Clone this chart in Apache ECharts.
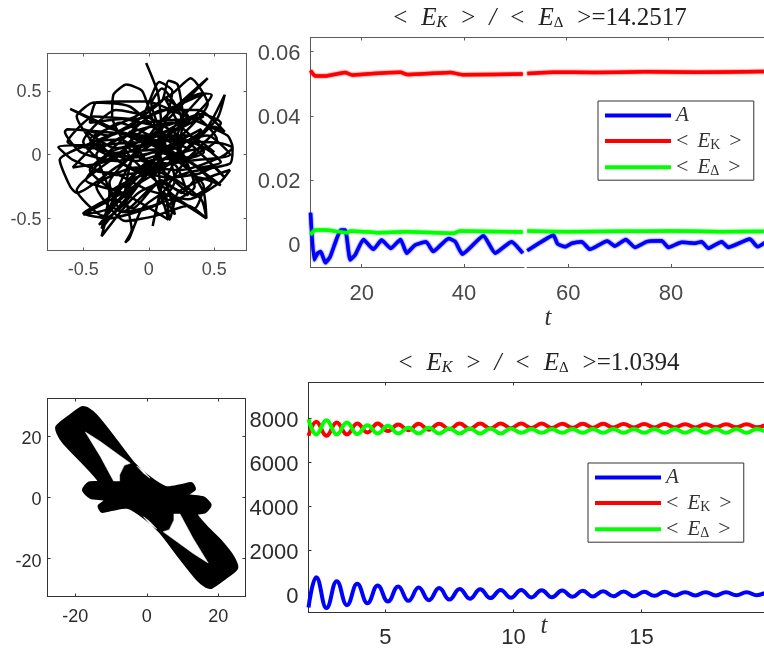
<!DOCTYPE html>
<html><head><meta charset="utf-8">
<style>html,body{margin:0;padding:0;background:#fff}#c{width:764px;height:652px}</style>
<script src="https://cdn.jsdelivr.net/npm/echarts@6/dist/echarts.min.js"></script>
</head><body><div id="c"></div>
<script>
var orbitX=[-.02,.07,.10,-.02,-.30,-.50,-.25,.15,.45,.58,
.52,.15,-.25,-.58,-.69,-.35,.15,.55,.64,.62,
.30,-.08,-.36,-.30,-.15,.08,.45,.28,-.05,-.35,
-.58,-.38,-.05,.30,.42,.10,-.25,-.55,-.60,-.68,
-.60,-.20,.10,.15,.22,.26,.22,.10,.03,.08,
.28,.55,.40,.10,-.20,-.45,-.40,-.02,.28,.60,
.64,.55,.25,-.10,-.40,-.18,.05,.30,.44,.42,
.30,.05,-.28,-.60,-.30,-.10,.12,.02,-.05,-.17,
-.27,-.28,-.15,.10,.35,.48,.30,.05,-.25,-.52,
-.64,-.62,-.35,-.05,.25,.48,.40,.15,-.12,-.18,
-.13,-.18,-.15,-.05,.12,.16,.22,.40,.62,.54,
.30,.00,-.25,-.42,-.20,.10,.38,.58,.50,.20,
-.10,-.45,-.10,.18,.32,.45,.20,-.10,-.32,-.50,
-.30,.00,.18,.44,.40,.18,-.05,-.22,-.38,-.20,
.08,.42,.55,.40,.08,-.15,-.42,-.55,-.38,-.10,
.20,.35,.12,.07,.14,.18,.08,-.05,-.30,-.50,
-.25,.12,.35,.52,.30,.00,-.20,-.28,-.20,.10,
.25,.38,.55,.30,.05,-.25,-.45,-.25,.00,.15,
.15,-.20,-.48,-.30,.10,.40,.30,.02,-.18,.05,
.35,.42,.15,-.15,-.40,-.62,-.42,-.10,.20,.42,
.22,.08,.12,.20,.10,-.05,-.22,-.38,-.18,.15,
.38,.50,.58,.30,-.02,-.25,-.50,-.35,-.08,.25,
.50,.30,.08,-.10,-.30,-.20,.08,.20,.12,.02,
.10,.25,.15,-.05,-.28,-.45,-.22,.02,.28,.12,
-.10,-.30,-.12,.08,.30,.20,-.05,-.15,.05,.20,
.42,.18,-.12,-.40,-.30,-.36,-.22,.05,.30,.62,
.45,.15,-.15,-.35,-.55,-.25,.10,.30,.12,.25];
var orbitY=[.72,.48,.15,-.15,-.42,-.47,-.33,-.08,.22,.47,
.28,-.08,-.16,-.04,.06,.08,.11,.09,.05,-.07,
-.14,-.30,-.64,-.42,-.08,.25,.60,.42,.08,-.06,
-.10,.10,.25,.28,.30,.13,-.10,-.30,-.25,-.04,
.02,.20,.42,.58,.55,.30,.00,-.25,-.56,-.35,
-.05,.25,.32,.22,.28,.25,.41,.42,.30,.15,
.06,-.02,-.12,-.10,-.25,-.52,-.48,-.40,-.50,-.30,
-.10,.10,.20,.36,.22,.12,.05,.30,.50,.55,
.47,.30,.05,-.12,-.32,-.22,-.05,.02,-.05,.02,
.18,.20,.18,.15,.22,.47,.48,.32,-.02,-.30,
-.59,-.69,-.66,-.42,-.30,-.51,-.30,-.20,-.12,-.22,
-.35,-.28,-.15,-.12,.12,.35,.35,.18,.22,.05,
-.05,.12,.30,.48,.60,.40,.10,-.15,-.35,-.46,
-.50,-.42,-.35,-.50,-.35,-.18,-.10,-.35,-.55,-.40,
-.05,.05,-.06,-.10,.18,.38,.41,.30,.05,-.02,
.08,-.25,-.40,.10,.30,.50,.57,.30,.15,.20,
.05,.18,.30,.12,-.02,-.05,-.25,-.40,-.45,-.20,
-.30,-.18,-.24,-.05,.08,.04,-.12,-.28,-.12,-.51,
-.51,-.30,-.20,.00,.05,.20,.05,.22,.05,-.20,
-.42,-.25,.00,.15,.05,.10,.30,.28,.38,.48,
.25,.05,-.15,-.47,-.30,.00,.12,.10,-.08,-.18,
-.15,-.10,-.18,.10,.30,.35,.10,-.05,.10,.12,
.02,.15,.15,.02,-.22,-.45,-.38,-.20,.10,.40,
.52,.28,.00,-.15,-.02,.08,.25,.15,.12,-.10,
-.18,-.30,-.42,-.22,-.32,-.08,-.05,.18,.10,-.05,
.02,.25,.18,.00,-.30,-.58,-.40,-.10,-.05,.00,
.15,.05,-.25,-.48,-.28,-.02,.12,.30,.45,.20];

var bandX=[-25.3,-21.9,-18.2,-16.6,-14.0,-9.3,-3.7,0.5,5.4,9.8,12.6,13.5,11.6,15.8,17.9,16.3,14.0,16.8,20.5,24.2,25.3,21.9,18.2,16.6,14.0,9.3,3.7,-0.5,-5.4,-9.8,-12.6,-13.5,-11.6,-15.8,-17.9,-16.3,-13.5,-23.3,-25.0];
var bandY=[23.2,26.5,29.5,29.2,26.7,19.9,11.4,6.9,3.4,4.1,4.7,2.7,0.9,0.1,-2.4,-4.9,-5.4,-9.5,-13.8,-19.3,-23.2,-26.5,-29.5,-29.2,-26.7,-19.9,-11.4,-6.9,-3.4,-4.1,-4.7,-2.7,-0.9,-0.1,2.4,4.9,5.4,17.8,21.0];
var holeAX=[-17.2,-13,-4.6,-6.3,-7.6,-7.6,-9.3,-13];
var holeAY=[21.4,18.3,11.2,10.5,7.4,5.4,5.4,13.4];
var holeBX=[17.2,13,4.6,6.3,7.6,7.6,9.3,13];
var holeBY=[-21.4,-18.3,-11.2,-10.5,-7.4,-5.4,-5.4,-13.4];
var slitAX=[-2.8,-.9,.9,-.9];
var slitAY=[10.3,8.8,6.3,7.9];
var slitBX=[2.8,.9,-.9,.9];
var slitBY=[-10.3,-8.8,-6.3,-7.9];

var ampLeftT=[10,10.7,11.4,12,12.9,13.85,14.8,15.9,16.8,17.75,18.7,20.35,22.3,23.9,25.7,27.6,28.8,30.4,32.6,34,37,38.3,39.7,43.8,46.1,49.3,51.5];
var ampLeft=[.0098,-.0049,-.0028,-.0023,-.0058,-.0039,.0003,.0044,.0044,-.0049,-.0034,.0015,-.0016,.0013,-.0013,.0015,-.0028,-.0003,.0008,-.0023,.0018,.0008,-.0031,.0026,-.0028,.0008,-.0028];
var ampRightT=[52,54.5,57.1,57.9,59.4,60.7,62.6,64.2,67.6,69.1,71.2,73,75.3,78.2,79.5,82.1,84.7,86,87.3,89.9,91.2,95.4,96.9,98.3];
var ampRight=[-.002,.0005,.0029,.0001,-.0008,.0003,.0008,-.0016,.001,-.0006,.0015,-.001,.0008,.0011,-.001,.0006,.0003,.0008,-.0013,.0008,-.001,.0016,-.0008,.0005];
var kinLeftT=[10,10.9,12.9,16.8,18.1,22.3,27.6,28.9,37.4,39.7,51.5];
var kinLeft=[.0541,.0524,.0524,.0535,.0527,.0532,.0536,.0529,.0535,.0528,.053];
var kinRightT=[52,57,65,75,85,98.3];
var kinRight=[.0532,.0536,.0535,.0537,.0536,.0538];
var gapLeftT=[10,10.9,12.9,17.2,17.8,23,28.9,38,39.2,51.5];
var gapLeft=[.0029,.0044,.0044,.0036,.0041,.0036,.0039,.0034,.0041,.0038];
var gapRightT=[52,60,70,80,90,98.3];
var gapRight=[.0041,.0039,.004,.0041,.0039,.004];

var osciT=[2.0,2.3,2.7,3.1,3.5,3.9,4.3,4.7,5.1,5.5,5.9,6.3,6.7,7.1,7.5,7.9,8.3,8.7,9.1,9.5,9.9,10.3,10.7,11.1,11.5,11.9,12.3,12.7,13.1,13.5,13.9,14.3,14.7,15.1,15.5,15.9,16.3,16.7,17.1,17.5,17.9,18.3,18.7,19.1,19.5,19.8];
var osciA=[-620,760,-650,575,-515,455,-425,380,-350,335,-320,290,-290,260,-260,225,-225,210,-195,180,-180,180,-165,165,-150,150,-135,135,-120,120,-105,105,-105,90,-90,90,-75,75,-75,75,-75,75,-60,75,-60,30];
var osciK=[7200,7832,7197,7803,7258,7757,7348,7757,7409,7712,7450,7740,7470,7750,7500,7757,7510,7757,7530,7757,7545,7757,7550,7757,7555,7750,7560,7745,7565,7740,7570,7735,7575,7730,7575,7730,7575,7727,7575,7727,7580,7727,7580,7727,7580,7680];
var osciD=[7950,7258,7909,7258,7803,7273,7682,7303,7652,7303,7561,7303,7561,7303,7530,7303,7530,7303,7530,7303,7530,7333,7500,7333,7500,7333,7510,7333,7510,7333,7510,7333,7510,7333,7510,7333,7510,7333,7510,7333,7510,7333,7510,7333,7510,7400];

var ticksOrbit=[-.5,0,.5], ticksBand=[-20,0,20];
var ticksTopY=[0,.02,.04,.06], ticksTopLeftX=[20,40], ticksTopRightX=[60,80], ticksTopFrame=[20,40,60,80];
var ticksBotY=[0,2000,4000,6000,8000], ticksBotX=[5,10,15];
var NAME_A='A', NAME_K='<EK>', NAME_D='<ED>';

var BLUE='#0000ff',RED='#ff0000',GREEN='#00ff00';
var SANS='"Liberation Sans",Arial,sans-serif', SERIF='"Liberation Serif",serif';

function zip(a,b){return a.map(function(v,i){return [v,b[i]];});}
function axis(o){
  var show=o.labels!==false;
  return {type:'value',gridIndex:o.grid,position:o.pos,min:o.min,max:o.max,
    axisLine:{show:o.line!==false,onZero:false,lineStyle:{color:o.color,width:1}},
    axisTick:{show:true,inside:true,length:3,customValues:o.ticks,lineStyle:{color:o.color,width:1}},
    axisLabel:{show:show,customValues:o.ticks,margin:o.margin,fontFamily:SANS,fontSize:o.size,color:o.text,hideOverlap:false,showMinLabel:true,showMaxLabel:true,
      rich:{a:{fontFamily:SANS,fontSize:o.size,color:o.text,padding:[o.pad||0,0,0,0]}},
      formatter:function(v){return '{a|'+v+'}';}},
    splitLine:{show:false}};
}
function box(grid,xr,yr,xt,yt,size,color,text,mx,my,pad){
  return {x:[axis({grid:grid,pos:'bottom',min:xr[0],max:xr[1],ticks:xt,size:size,color:color,text:text,margin:mx}),
             axis({grid:grid,pos:'top',min:xr[0],max:xr[1],ticks:xt,labels:false,color:color})],
          y:[axis({grid:grid,pos:'left',min:yr[0],max:yr[1],ticks:yt,size:size,color:color,text:text,margin:my,pad:pad}),
             axis({grid:grid,pos:'right',min:yr[0],max:yr[1],ticks:yt,labels:false,color:color})]};
}
var COLT='#5a5a5a', TXTT='#4a4a4a', COLB='#333', TXTB='#2b2b2b';
var grids=[
 {left:47.5,top:53.5,width:199,height:197},
 {left:310.5,top:37.5,width:213.5,height:229.5},
 {left:527,top:37.5,width:237,height:229.5},
 {left:310.5,top:37.5,width:453.5,height:229.5},
 {left:47.5,top:398.5,width:198,height:198},
 {left:308.5,top:382.5,width:455.5,height:230}
];
var b0=box(0,[-.773,.746],[-.752,.794],ticksOrbit,ticksOrbit,18,COLT,TXTT,11,6,3);
var b4=box(4,[-27.8,27.65],[-32.35,32.35],ticksBand,ticksBand,18,COLB,TXTB,12,6,6);
var xAxes=[b0.x[0],b0.x[1],
 axis({grid:1,pos:'bottom',min:10,max:51.74,ticks:ticksTopLeftX,size:22,color:COLT,text:TXTT,margin:16}),
 axis({grid:2,pos:'bottom',min:51.95,max:98.15,ticks:ticksTopRightX,size:22,color:COLT,text:TXTT,margin:16}),
 axis({grid:3,pos:'top',min:10,max:98.76,ticks:ticksTopFrame,labels:false,color:COLT}),
 b4.x[0],b4.x[1],
 axis({grid:5,pos:'bottom',min:2,max:19.78,ticks:ticksBotX,size:22,color:COLB,text:TXTB,margin:14}),
 axis({grid:5,pos:'top',min:2,max:19.78,ticks:ticksBotX,labels:false,color:COLB})
];
var yrT=[-.0071,.0644], yrB=[-850,9623];
function hiddenY(g,r){var a=axis({grid:g,pos:'left',min:r[0],max:r[1],ticks:[],labels:false,line:false,color:COLT});a.axisTick.show=false;return a;}
var yAxes=[b0.y[0],b0.y[1],
 axis({grid:1,pos:'left',min:yrT[0],max:yrT[1],ticks:ticksTopY,size:22,color:COLT,text:TXTT,margin:10,pad:4}),
 hiddenY(2,yrT),hiddenY(3,yrT),
 b4.y[0],b4.y[1],
 axis({grid:5,pos:'left',min:yrB[0],max:yrB[1],ticks:ticksBotY,size:22,color:COLB,text:TXTB,margin:10,pad:6})
];
function curve(name,color,xi,yi,t,v,w,sm,blur){
  var s={type:'line',name:name,xAxisIndex:xi,yAxisIndex:yi,data:zip(t,v),symbol:'none',clip:true,smooth:sm,
    lineStyle:{color:color,width:w,join:'round',shadowBlur:blur||0,shadowColor:color},itemStyle:{color:color},animation:false};
  if(sm>0.3){s.smoothMonotone='x';}
  return s;
}
function poly(xs,ys,color,xi,yi,sm){
  return {type:'custom',coordinateSystem:'cartesian2d',xAxisIndex:xi,yAxisIndex:yi,silent:true,animation:false,
    data:zip(xs,ys),encode:{x:0,y:1},
    renderItem:function(p,api){
      if(p.dataIndex!==0)return null;
      return {type:'polygon',shape:{smooth:sm,points:zip(xs,ys).map(function(q){return api.coord(q);})},
        style:{fill:color,stroke:color,lineWidth:color==='#000'?2:0.5,lineJoin:'round'}};
    }};
}
var series=[
 {type:'line',xAxisIndex:0,yAxisIndex:0,data:zip(orbitX,orbitY),symbol:'none',smooth:0.2,lineStyle:{color:'#000',width:2.5},animation:false},
 poly(bandX,bandY,'#000',5,5,0.25),poly(holeAX,holeAY,'#fff',5,5,0),poly(holeBX,holeBY,'#fff',5,5,0),poly(slitAX,slitAY,'#fff',5,5,0),poly(slitBX,slitBY,'#fff',5,5,0),
 curve(NAME_A,BLUE,2,2,ampLeftT,ampLeft,3.5,0.15,2),
 curve(NAME_K,RED,2,2,kinLeftT,kinLeft,3.5,0.15,2),
 curve(NAME_D,GREEN,2,2,gapLeftT,gapLeft,3.5,0.15,2),
 curve(NAME_A,BLUE,3,3,ampRightT,ampRight,3.5,0.15,2),
 curve(NAME_K,RED,3,3,kinRightT,kinRight,3.5,0.15,2),
 curve(NAME_D,GREEN,3,3,gapRightT,gapRight,3.5,0.15,2),
 curve('A ',BLUE,7,7,osciT,osciA,4,0.45),
 curve('<EK> ',RED,7,7,osciT,osciK,4,0.45),
 curve('<ED> ',GREEN,7,7,osciT,osciD,4,0.45)
];
var mathRich={
 r:{fontFamily:SERIF,fontWeight:'normal',fontSize:25,color:'#222'},
 i:{fontFamily:SERIF,fontWeight:'normal',fontStyle:'italic',fontSize:25,color:'#222'},
 s:{fontFamily:SERIF,fontWeight:'normal',fontStyle:'italic',fontSize:16,color:'#222',padding:[9,0,0,0]},
 d:{fontFamily:SERIF,fontWeight:'normal',fontSize:15,color:'#222',padding:[9,0,0,0]},
 g:{fontFamily:SERIF,fontWeight:'normal',fontSize:25,color:'#222',width:14}
};
var legRich={
 r:{fontFamily:SERIF,fontSize:22,color:'#333',lineHeight:24},
 i:{fontFamily:SERIF,fontStyle:'italic',fontSize:21,color:'#333',lineHeight:24},
 s:{fontFamily:SERIF,fontSize:14,color:'#333',lineHeight:14,padding:[8,0,0,0]},
 g:{fontFamily:SERIF,fontSize:20,width:9,lineHeight:24}
};
function titleText(v){return '{r|<}{g| }{i|E}{s|K}{g| }{r|>}{g| }{i|/}{g| }{r|<}{g| }{i|E}{d|Δ}{g| }{r|>=}{r|'+v+'}';}
function legFmt(n){
  n=n.trim();
  if(n==='A')return '{i|A}';
  if(n==='<EK>')return '{r|<}{g| }{i|E}{s|K}{g| }{r|>}';
  return '{r|<}{g| }{i|E}{s|Δ}{g| }{r|>}';
}
function legend(names,left,top){
  return {show:true,data:names,orient:'vertical',left:left,top:top,icon:'rect',itemWidth:66,itemHeight:4,itemGap:4.1,
    padding:[4,12,2,7],borderColor:'#333',borderWidth:1,backgroundColor:'#fff',selectedMode:false,
    formatter:legFmt,textStyle:{rich:legRich}};
}
var option={animation:false,
 title:[
  {text:titleText('14.2517'),left:535,top:1,textAlign:'center',textStyle:{fontWeight:'normal',rich:mathRich}},
  {text:titleText('1.0394'),left:534,top:346,textAlign:'center',textStyle:{fontWeight:'normal',rich:mathRich}},
  {text:'t',left:543,top:301,textAlign:'center',textStyle:{fontFamily:SERIF,fontStyle:'italic',fontWeight:'normal',fontSize:25,color:'#333'}},
  {text:'t',left:539,top:609,textAlign:'center',textStyle:{fontFamily:SERIF,fontStyle:'italic',fontWeight:'normal',fontSize:25,color:'#333'}}
 ],
 grid:grids,xAxis:xAxes,yAxis:yAxes,series:series,
 legend:[legend([NAME_A,NAME_K,NAME_D],598,101),legend(['A ','<EK> ','<ED> '],588,463)]
};
var chart=echarts.init(document.getElementById('c'),null,{renderer:'canvas'});
chart.setOption(option);
</script></body></html>
